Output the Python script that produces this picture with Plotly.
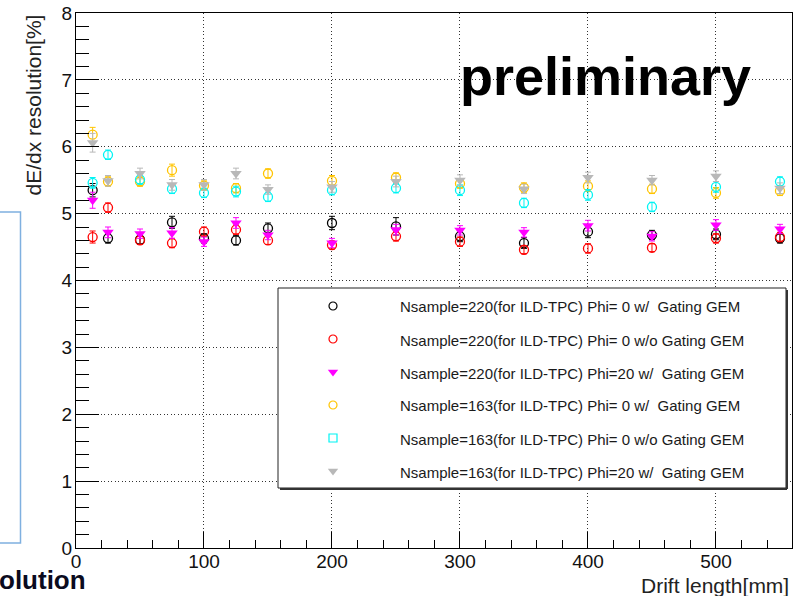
import plotly.graph_objects as go

# Canvas and frame geometry (pixels)
W, H = 796, 596
ML, MR, MT, MB = 76, 4, 13, 48
PW, PH = W - ML - MR, H - MT - MB
XMAX, YMAX = 559.4, 8.0

# Drift length positions [mm]
drift = [13, 25, 50, 75, 100, 125, 150, 200, 250, 300, 350, 400, 450, 500, 550]

# dE/dx resolution [%] per configuration
res_220_phi0_gate = [5.35, 4.63, 4.61, 4.87, 4.63, 4.60, 4.78, 4.86, 4.81, 4.66, 4.56, 4.73, 4.68, 4.69, 4.63]
res_220_phi0_nogate = [4.65, 5.09, 4.60, 4.56, 4.73, 4.76, 4.60, 4.53, 4.66, 4.58, 4.46, 4.48, 4.49, 4.63, 4.65]
res_220_phi20_gate = [5.20, 4.72, 4.70, 4.71, 4.58, 4.86, 4.68, 4.56, 4.76, 4.75, 4.72, 4.82, 4.66, 4.83, 4.77]
res_163_phi0_gate = [6.18, 5.48, 5.48, 5.65, 5.42, 5.38, 5.60, 5.49, 5.54, 5.45, 5.39, 5.41, 5.37, 5.31, 5.34]
res_163_phi0_nogate = [5.46, 5.88, 5.51, 5.37, 5.31, 5.33, 5.25, 5.35, 5.38, 5.35, 5.16, 5.28, 5.10, 5.40, 5.48]
res_163_phi20_gate = [6.06, 5.49, 5.60, 5.43, 5.43, 5.60, 5.36, 5.40, 5.48, 5.50, 5.37, 5.54, 5.50, 5.56, 5.38]

# Statistical errors [%]
err_220_phi0_gate = [0.10, 0.07, 0.07, 0.09, 0.07, 0.07, 0.08, 0.10, 0.13, 0.08, 0.08, 0.09, 0.07, 0.08, 0.07]
err_220_phi0_nogate = [0.09, 0.07, 0.06, 0.07, 0.07, 0.07, 0.06, 0.06, 0.07, 0.07, 0.06, 0.07, 0.06, 0.07, 0.07]
err_220_phi20_gate = [0.12, 0.08, 0.07, 0.08, 0.07, 0.08, 0.07, 0.07, 0.08, 0.07, 0.07, 0.08, 0.07, 0.08, 0.07]
err_163_phi0_gate = [0.11, 0.07, 0.07, 0.09, 0.07, 0.07, 0.07, 0.08, 0.07, 0.07, 0.07, 0.08, 0.07, 0.08, 0.07]
err_163_phi0_nogate = [0.08, 0.07, 0.07, 0.07, 0.07, 0.08, 0.07, 0.07, 0.07, 0.08, 0.07, 0.08, 0.07, 0.08, 0.07]
err_163_phi20_gate = [0.14, 0.08, 0.08, 0.08, 0.08, 0.08, 0.07, 0.08, 0.08, 0.08, 0.07, 0.08, 0.07, 0.08, 0.08]

legend_labels = [
    "Nsample=220(for ILD-TPC) Phi= 0 w/  Gating GEM",
    "Nsample=220(for ILD-TPC) Phi= 0 w/o Gating GEM",
    "Nsample=220(for ILD-TPC) Phi=20 w/  Gating GEM",
    "Nsample=163(for ILD-TPC) Phi= 0 w/  Gating GEM",
    "Nsample=163(for ILD-TPC) Phi= 0 w/o Gating GEM",
    "Nsample=163(for ILD-TPC) Phi=20 w/  Gating GEM",
]

x_ticks = [0, 100, 200, 300, 400, 500]
y_ticks = [0, 1, 2, 3, 4, 5, 6, 7, 8]

series = [
    (res_220_phi0_gate, err_220_phi0_gate, "circle-open", "#000000", "circle-open"),
    (res_220_phi0_nogate, err_220_phi0_nogate, "circle-open", "#ff0000", "circle-open"),
    (res_220_phi20_gate, err_220_phi20_gate, "triangle-down", "#ff00ff", "triangle-down"),
    (res_163_phi0_gate, err_163_phi0_gate, "circle-open", "#ffc400", "circle-open"),
    (res_163_phi0_nogate, err_163_phi0_nogate, "circle-open", "#00f4f4", "square-open"),
    (res_163_phi20_gate, err_163_phi20_gate, "triangle-down", "#b8b8b8", "triangle-down"),
]

FONT = "Liberation Sans, Arial, Helvetica, sans-serif"


def px2x(px):
    return (px - ML) / PW * XMAX


def py2y(py):
    return (H - MB - py) / PH * YMAX


def ppx(px):
    return (px - ML) / PW


def ppy(py):
    return (H - MB - py) / PH


fig = go.Figure()

for vals, errs, sym, col, _ in series:
    filled = not sym.endswith("open")
    fig.add_trace(go.Scatter(
        x=drift, y=vals, mode="markers",
        marker=dict(symbol=sym, size=10 if filled else 9, color=col,
                    line=dict(color=col, width=0 if filled else 1.3)),
        error_y=dict(type="data", array=errs, color=col, thickness=1, width=3),
        showlegend=False, cliponaxis=False,
    ))

# Legend box
leg_x0, leg_x1, leg_y0, leg_y1 = 278, 786, 288, 488
row_top, row_step = 306, 33
key_x, text_x = 333, 398

shapes = [
    dict(type="rect", xref="x", yref="y", layer="between",
         x0=px2x(leg_x0), x1=px2x(leg_x1), y0=py2y(leg_y0), y1=py2y(leg_y1),
         fillcolor="white", line=dict(color="#222", width=1)),
    dict(type="line", xref="x", yref="y", layer="between",
         x0=px2x(leg_x1 + 1), x1=px2x(leg_x1 + 1), y0=py2y(leg_y0 + 2), y1=py2y(leg_y1 + 1),
         line=dict(color="#333", width=2)),
    dict(type="line", xref="x", yref="y", layer="between",
         x0=px2x(leg_x0 + 2), x1=px2x(leg_x1 + 1), y0=py2y(leg_y1 + 1), y1=py2y(leg_y1 + 1),
         line=dict(color="#333", width=2)),
    # partial blue frame at the left edge of the page
    dict(type="path", xref="paper", yref="paper", layer="above",
         path="M {a},{b} L {c},{b} L {c},{d} L {a},{d}".format(
             a=ppx(-2), b=ppy(212), c=ppx(20.5), d=ppy(543)),
         line=dict(color="#7fb0e0", width=1.5)),
]

annotations = []
for i, (vals, errs, sym, col, key_sym) in enumerate(series):
    ry = row_top + i * row_step
    filled = not key_sym.endswith("open")
    fig.add_trace(go.Scatter(
        x=[px2x(key_x)], y=[py2y(ry)], mode="markers",
        marker=dict(symbol=key_sym, size=9 if filled else 8, color=col,
                    line=dict(color=col, width=0 if filled else 1.2)),
        showlegend=False, hoverinfo="skip", cliponaxis=False,
    ))
    annotations.append(dict(
        xref="paper", yref="paper", x=ppx(text_x), y=ppy(ry + 1),
        xanchor="left", yanchor="middle", showarrow=False,
        text=legend_labels[i].replace("  ", "\u00a0\u00a0"),
        font=dict(family=FONT, size=15, color="#1a1a1a"),
    ))

annotations += [
    dict(xref="paper", yref="paper", x=ppx(605), y=ppy(76), xanchor="center", yanchor="middle",
         showarrow=False, text="preliminary",
         font=dict(family=FONT, size=54, color="black", weight="bold")),
    dict(xref="paper", yref="paper", x=ppx(33), y=ppy(13), xanchor="center", yanchor="top",
         showarrow=False, text="dE/dx resolution[%]", textangle=-90,
         font=dict(family=FONT, size=21, color="#222")),
    dict(xref="paper", yref="paper", x=ppx(791), y=ppy(585), xanchor="right", yanchor="middle",
         showarrow=False, text="Drift length[mm]",
         font=dict(family=FONT, size=21, color="#222")),
    dict(xref="paper", yref="paper", x=ppx(88), y=ppy(580), xanchor="right", yanchor="middle",
         showarrow=False, text="olution",
         font=dict(family=FONT, size=26, color="#0b0b1e", weight="bold")),
]

fig.update_layout(
    width=W, height=H,
    margin=dict(l=ML, r=MR, t=MT, b=MB),
    paper_bgcolor="white", plot_bgcolor="white",
    showlegend=False,
    shapes=shapes, annotations=annotations,
    font=dict(family=FONT, color="black"),
)

fig.update_xaxes(
    range=[0, XMAX], tickvals=x_ticks, ticktext=[str(v) for v in x_ticks],
    ticks="inside", ticklen=16, tickwidth=1, tickcolor="black",
    minor=dict(ticks="inside", ticklen=8, dtick=20, tick0=0, tickcolor="black", showgrid=False),
    showline=True, linecolor="black", linewidth=1, mirror=True,
    showgrid=True, gridcolor="#333", griddash="1px,2.5px", gridwidth=1,
    zeroline=False, tickfont=dict(family=FONT, size=19, color="#111"),
    ticklabelstandoff=-4,
)
fig.update_yaxes(
    range=[0, YMAX], tickvals=y_ticks, ticktext=[str(v) for v in y_ticks],
    ticks="inside", ticklen=23, tickwidth=1, tickcolor="black",
    minor=dict(ticks="inside", ticklen=13, dtick=0.2, tick0=0, tickcolor="black", showgrid=False),
    showline=True, linecolor="black", linewidth=1, mirror=True,
    showgrid=True, gridcolor="#333", griddash="1px,2.5px", gridwidth=1,
    zeroline=False, tickfont=dict(family=FONT, size=19, color="#111"),
    ticklabelstandoff=-1,
)

fig.write_html("out.html")
